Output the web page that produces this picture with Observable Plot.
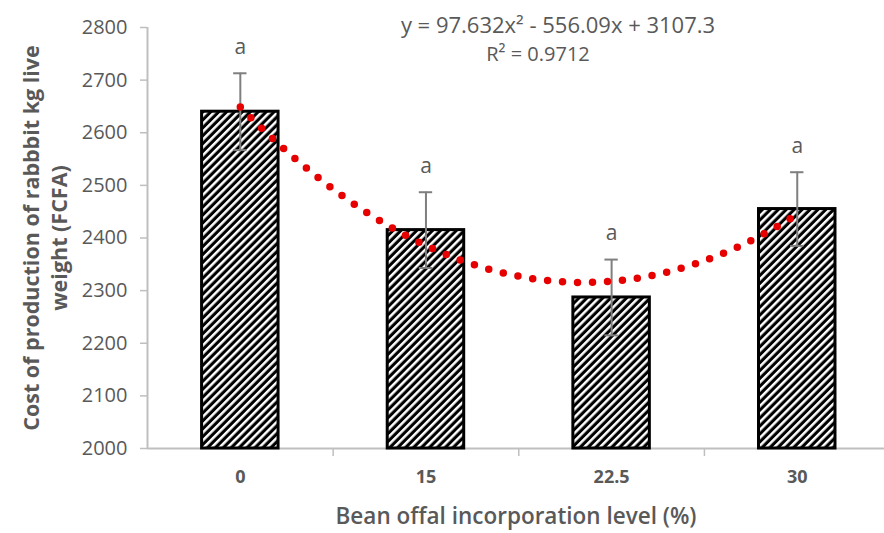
<!DOCTYPE html>
<html><head><meta charset="utf-8">
<script src="https://cdn.jsdelivr.net/npm/d3@7"></script>
<script src="https://cdn.jsdelivr.net/npm/@observablehq/plot@0.6"></script>
<style>
body{margin:0;background:#fff;}
#chart svg{display:block;}
</style>
</head><body><div id="chart"></div>
<script>
const levels = ["0", "15", "22.5", "30"];
const means = [2640, 2415, 2287, 2455];
const errors = [73, 72, 72, 70];
const letters = ["a", "a", "a", "a"];
const trendCoef = [97.632, -556.09, 3107.3];
const equationText = "y = 97.632x² - 556.09x + 3107.3";
const r2Text = "R² = 0.9712";
const yTicks = [2000, 2100, 2200, 2300, 2400, 2500, 2600, 2700, 2800];
const yTitle = "Cost of production of rabbbit kg live\nweight (FCFA)";
const xTitle = "Bean offal incorporation level (%)";

const data = levels.map((l, k) => ({level: l, i: k + 1, mean: means[k], err: errors[k], letter: letters[k]}));
const trend = d3.range(1, 4.0001, 0.02).map(x => ({x, y: trendCoef[0]*x*x + trendCoef[1]*x + trendCoef[2]}));

const gray = "#595959";
const axisGray = "#bfbfbf";
const font = "'Open Sans', Lato, sans-serif";

const chart = Plot.plot({
  width: 884, height: 533,
  marginLeft: 147, marginRight: 0, marginTop: 27, marginBottom: 85,
  style: {fontFamily: font, background: "#fff", overflow: "visible"},
  x: {type: "linear", domain: [0.5, 4.47]},
  y: {domain: [2000, 2800]},
  marks: [
    Plot.axisY({ticks: yTicks, tickSize: 7, tickPadding: 13, fontSize: 20, fill: gray, stroke: axisGray, strokeWidth: 1.5, label: null, tickFormat: d => String(d)}),
    Plot.axisX({ticks: [1.5, 2.5, 3.5], tickSize: 8, tickFormat: () => "", stroke: axisGray, strokeWidth: 1.5, label: null}),
    Plot.axisX({ticks: [1, 2, 3, 4], tickSize: 0, tickPadding: 22, tickFormat: d => levels[d - 1], fontSize: 18, fontWeight: "bold", fill: gray, label: null}),
    Plot.ruleX([0.5], {stroke: axisGray, strokeWidth: 2}),
    Plot.ruleY([2000], {stroke: axisGray, strokeWidth: 2}),
    Plot.rectY(data, {x1: d => d.i - 0.206, x2: d => d.i + 0.206, y1: 2000, y2: "mean", fill: "url(#hatch)", stroke: "black", strokeWidth: 3}),
    Plot.ruleX(data, {x: "i", y1: d => d.mean - d.err, y2: d => d.mean + d.err, stroke: "#7f7f7f", strokeWidth: 2}),
    Plot.ruleY(data, {y: d => d.mean + d.err, x1: d => d.i - 0.036, x2: d => d.i + 0.036, stroke: "#7f7f7f", strokeWidth: 2}),
    Plot.ruleY(data, {y: d => d.mean - d.err, x1: d => d.i - 0.036, x2: d => d.i + 0.036, stroke: "#7f7f7f", strokeWidth: 2}),
    Plot.text(data, {x: "i", y: d => d.mean + d.err, text: "letter", dy: -26, fontSize: 21, fill: gray}),
    Plot.line(trend, {x: "x", y: "y", stroke: "#e60000", strokeWidth: 7.5, strokeLinecap: "round", strokeDasharray: "0 15", curve: "linear"}),
    Plot.text([equationText], {frameAnchor: "top", dx: 42, dy: -10, fontSize: 22, fill: gray}),
    Plot.text([r2Text], {frameAnchor: "top", dx: 22, dy: 19, fontSize: 20, fill: gray}),
    Plot.text([yTitle], {frameAnchor: "left", dx: -103, rotate: -90, fontSize: 21.5, fontWeight: "bold", fill: gray, lineHeight: 1.3, textAnchor: "middle"}),
    Plot.text([xTitle], {frameAnchor: "bottom", dy: 75, fontSize: 22.5, fontWeight: 600, fill: gray})
  ]
});

const ns = "http://www.w3.org/2000/svg";
const defs = document.createElementNS(ns, "defs");
defs.innerHTML = '<pattern id="hatch" patternUnits="userSpaceOnUse" width="5.6" height="5.6" patternTransform="rotate(45)"><rect width="5.6" height="5.6" fill="black"/><rect width="2.5" height="5.6" fill="white"/></pattern>';
chart.insertBefore(defs, chart.firstChild);
document.getElementById("chart").appendChild(chart);
</script>
</body></html>
